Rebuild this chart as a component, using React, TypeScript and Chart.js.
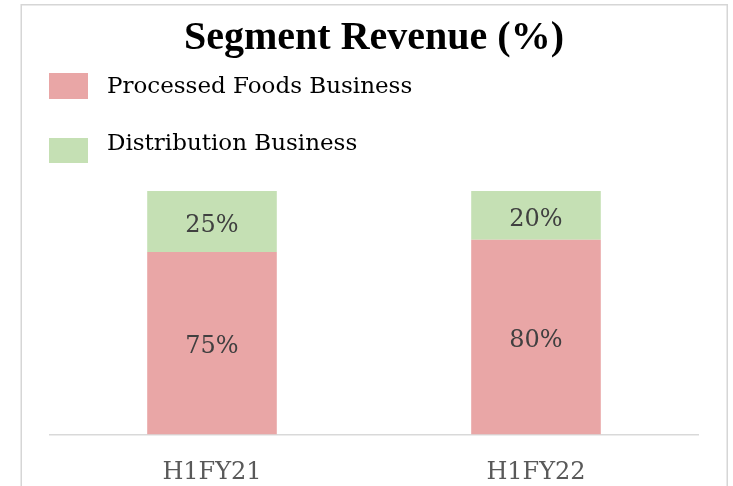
import React, { useEffect, useRef } from "react";
import { Chart, registerables } from "chart.js";

Chart.register(...registerables);

const categories = ["H1FY21", "H1FY22"];
const seriesNames = ["Processed Foods Business", "Distribution Business"];
const processedFoods = [75, 80];
const distribution = [25, 20];
const chartTitle = "Segment Revenue (%)";

const PINK = "#E9A6A6";
const GREEN = "#C5E0B4";

const decorPlugin = {
  id: "decor",
  afterDraw(chart: any) {
    const ctx = chart.ctx;
    ctx.save();
    // outer border
    ctx.strokeStyle = "#D6D6D6";
    ctx.lineWidth = 1.5;
    ctx.beginPath();
    ctx.moveTo(21.25, 500);
    ctx.lineTo(21.25, 4.75);
    ctx.lineTo(727.25, 4.75);
    ctx.lineTo(727.25, 500);
    ctx.stroke();

    // title
    ctx.fillStyle = "#000000";
    ctx.font = 'bold 40px "Liberation Serif"';
    ctx.textAlign = "center";
    ctx.textBaseline = "alphabetic";
    ctx.fillText(chartTitle, 374, 49);

    // legend
    const boxes = [
      { y: 73, h: 26, ty: 87 },
      { y: 138, h: 25, ty: 144 },
    ];
    chart.data.datasets.forEach((ds: any, i: number) => {
      const b = boxes[i];
      ctx.fillStyle = ds.backgroundColor;
      ctx.fillRect(49, b.y, 39, b.h);
      ctx.fillStyle = "#000000";
      ctx.font = '23px "DejaVu Serif"';
      ctx.textAlign = "left";
      ctx.textBaseline = "middle";
      ctx.fillText(ds.label, 107, b.ty);
    });

    // data labels
    ctx.font = '24px "DejaVu Serif"';
    ctx.fillStyle = "#404040";
    ctx.textAlign = "center";
    ctx.textBaseline = "middle";
    chart.data.datasets.forEach((ds: any, i: number) => {
      const meta = chart.getDatasetMeta(i);
      meta.data.forEach((bar: any, j: number) => {
        const props = bar.getProps(["x", "y", "base"], true);
        const cy = (props.y + props.base) / 2 + 4;
        ctx.fillText(ds.data[j] + "%", props.x, cy);
      });
    });
    ctx.restore();
  },
};

export default function App() {
  const ref = useRef<HTMLCanvasElement | null>(null);

  useEffect(() => {
    document.body.style.margin = "0";
    const canvas = ref.current;
    if (!canvas) return;
    const chart = new Chart(canvas, {
      type: "bar",
      data: {
        labels: categories,
        datasets: [
          {
            label: seriesNames[0],
            data: processedFoods,
            backgroundColor: PINK,
            borderWidth: 0,
            barPercentage: 1,
            categoryPercentage: 0.4,
          },
          {
            label: seriesNames[1],
            data: distribution,
            backgroundColor: GREEN,
            borderWidth: 0,
            barPercentage: 1,
            categoryPercentage: 0.4,
          },
        ],
      },
      options: {
        responsive: false,
        animation: false,
        layout: { padding: { top: 191, left: 50, right: 35, bottom: 0 } },
        plugins: {
          legend: { display: false },
          title: { display: false },
          tooltip: { enabled: false },
        },
        scales: {
          y: { display: false, stacked: true, min: 0, max: 100 },
          x: {
            stacked: true,
            grid: { display: false, drawTicks: false },
            border: { display: true, color: "#D9D9D9", width: 1.5 },
            ticks: {
              color: "#595959",
              font: { family: '"DejaVu Serif"', size: 24 },
              padding: 24,
            },
            afterFit: (scale: any) => {
              scale.height = 51.5;
            },
          },
        },
      },
      plugins: [decorPlugin],
    });
    return () => chart.destroy();
  }, []);

  return (
    <div style={{ width: 733, height: 486, background: "#FFFFFF" }}>
      <canvas ref={ref} width={733} height={486} style={{ display: "block" }} />
    </div>
  );
}
